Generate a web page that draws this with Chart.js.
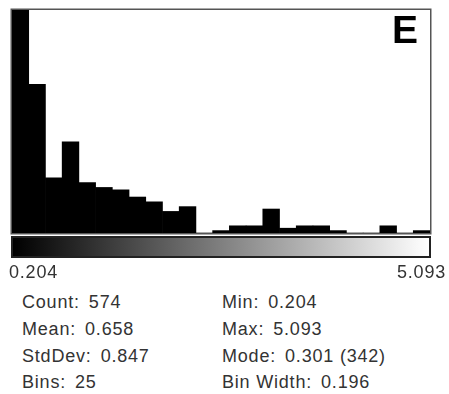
<!DOCTYPE html>
<html>
<head>
<meta charset="utf-8">
<script src="https://cdn.jsdelivr.net/npm/chart.js@4/dist/chart.umd.min.js"></script>
<style>
  html, body { margin: 0; padding: 0; background: #fff; }
  #wrap { position: relative; width: 449px; height: 394px; overflow: hidden; }
  #histChart { position: absolute; left: 0; top: 0; }
  .txt { position: absolute; font-family: "Liberation Sans", Arial, sans-serif; font-size: 18px;
         line-height: 18px; color: #333; letter-spacing: 0.8px; white-space: nowrap; }
  .txt .val { margin-left: 9px; }
  #panel { position: absolute; left: 392px; top: 10px; font-family: "Liberation Sans", Arial, sans-serif;
           font-weight: bold; font-size: 39px; line-height: 39px; color: #000; }
  #lut { position: absolute; left: 11px; top: 236px; width: 420px; height: 22px; box-sizing: border-box;
         border: 2px solid #222; background: linear-gradient(to right, #000, #fff); }
</style>
</head>
<body>
<div id="wrap">
  <canvas id="histChart" width="449" height="240"></canvas>
  <div id="panel">E</div>
  <div id="lut"></div>
  <div class="txt" id="minLabel" style="left:9px; top:263px;"></div>
  <div class="txt" id="maxLabel" style="right:3px; top:263px;"></div>
  <div id="stats"></div>
</div>
<script>
// histogram data (25 bins)
const binStarts = [0.204, 0.400, 0.595, 0.791, 0.986, 1.182, 1.377, 1.573, 1.769, 1.964,
                   2.160, 2.355, 2.551, 2.746, 2.942, 3.137, 3.333, 3.529, 3.724, 3.920,
                   4.115, 4.311, 4.506, 4.702, 4.897];
const binCounts = [315, 62, 23, 38, 21, 19, 18, 15, 13, 9,
                   11, 0, 1, 3, 3, 10, 2, 3, 3, 1,
                   0, 0, 3, 0, 1];
const displayMax = 93;   // tallest bin is clipped, like ImageJ does
const rangeLabels = ['0.204', '5.093'];
const statsLeft = [['Count:', '574'], ['Mean:', '0.658'], ['StdDev:', '0.847'], ['Bins:', '25']];
const statsRight = [['Min:', '0.204'], ['Max:', '5.093'], ['Mode:', '0.301 (342)'], ['Bin Width:', '0.196']];

// frame around plot area
const framePlugin = {
    id: 'frame',
    afterDatasetsDraw(chart) {
        const a = chart.chartArea;
        const ctx = chart.ctx;
        ctx.save();
        ctx.strokeStyle = '#555';
        ctx.lineWidth = 1.5;
        ctx.strokeRect(a.left - 0.75, a.top - 0.75, a.right - a.left + 1.5, a.bottom - a.top + 1.5);
        ctx.restore();
    }
};

function createHistogram() {
    const ctx = document.getElementById('histChart').getContext('2d');
    new Chart(ctx, {
        type: 'bar',
        data: {
            labels: binStarts.map(v => v.toFixed(3)),
            datasets: [{
                data: binCounts,
                backgroundColor: '#000',
                borderWidth: 0,
                barPercentage: 1,
                categoryPercentage: 1
            }]
        },
        options: {
            responsive: false,
            animation: false,
            layout: { padding: { left: 12, right: 19, top: 10, bottom: 7 } },
            plugins: { legend: { display: false }, tooltip: { enabled: false } },
            scales: {
                x: { display: false },
                y: { display: false, min: 0, max: displayMax }
            }
        },
        plugins: [framePlugin]
    });
}

function addStat(parent, pair, left, top) {
    const d = document.createElement('div');
    d.className = 'txt';
    d.style.left = left + 'px';
    d.style.top = top + 'px';
    d.appendChild(document.createTextNode(pair[0]));
    const v = document.createElement('span');
    v.className = 'val';
    v.textContent = pair[1];
    d.appendChild(v);
    parent.appendChild(d);
}

function fillText() {
    document.getElementById('minLabel').textContent = rangeLabels[0];
    document.getElementById('maxLabel').textContent = rangeLabels[1];
    const stats = document.getElementById('stats');
    const tops = [293, 320, 347, 373];
    statsLeft.forEach((p, i) => addStat(stats, p, 22, tops[i]));
    statsRight.forEach((p, i) => addStat(stats, p, 222, tops[i]));
}

document.addEventListener('DOMContentLoaded', () => {
    createHistogram();
    fillText();
});
</script>
</body>
</html>
